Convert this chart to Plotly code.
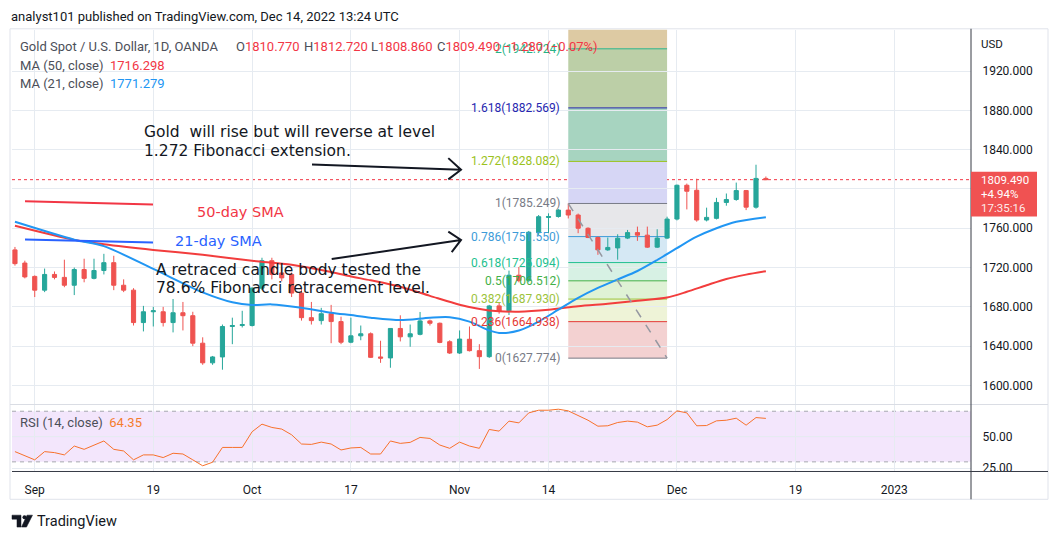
import plotly.graph_objects as go
import pandas as pd

W, H = 1053, 542

# ---------------- data ----------------
dates = pd.bdate_range("2022-08-30", "2022-12-14").strftime("%Y-%m-%d").tolist()

opens = [1738, 1724.6, 1711, 1697, 1713, 1710, 1702, 1718, 1709, 1717,
         1725, 1702, 1697, 1664, 1675, 1675, 1664, 1674, 1671, 1643,
         1623, 1629, 1660, 1661, 1661, 1699, 1727, 1714.5, 1713, 1694,
         1669, 1666, 1673, 1665, 1644, 1650.5, 1652.6, 1629, 1628, 1658,
         1649.5, 1652, 1665.7, 1663.3, 1644.5, 1633, 1647, 1635.4, 1629.3, 1681,
         1676, 1712.2, 1707, 1755.5, 1771, 1772, 1778.5, 1773.5, 1760, 1750.6,
         1738, 1740, 1750, 1755.6, 1753, 1740.8, 1750, 1769.4, 1803.8, 1798.7,
         1768.4, 1770.1, 1786.3, 1789.3, 1798.4, 1781.5, 1810.77]
highs = [1741, 1727, 1712, 1719, 1716, 1728, 1720, 1729, 1729, 1734,
         1732, 1708, 1699, 1681, 1680, 1680, 1688, 1685, 1675, 1649,
         1630, 1662, 1669, 1676, 1700, 1730, 1730, 1720, 1715, 1698,
         1685, 1679, 1682, 1670, 1669, 1661, 1654, 1645.5, 1658, 1671.4,
         1662, 1674.8, 1667, 1664, 1646, 1656, 1660, 1642, 1682, 1684,
         1716.9, 1720.6, 1757.3, 1773.5, 1775.2, 1779.5, 1785.25, 1775, 1761, 1751.6,
         1750.6, 1753.9, 1758.3, 1761.7, 1761.7, 1759, 1771.8, 1804.5, 1805.5, 1810.5,
         1781, 1791, 1795.4, 1806.5, 1799, 1824.7, 1812.72]
lows = [1722, 1709, 1690, 1695, 1708, 1700, 1692, 1705, 1708, 1713,
        1697, 1695, 1661, 1655, 1660, 1660, 1654, 1656, 1640, 1621,
        1621, 1616, 1642, 1659, 1660, 1697, 1708, 1706, 1690, 1666,
        1662, 1662, 1643, 1642, 1643, 1646, 1628, 1623, 1618, 1644.8,
        1639.4, 1651, 1661, 1643, 1632, 1632, 1634.6, 1616.8, 1628, 1673,
        1671.7, 1705, 1705, 1753, 1755, 1770.8, 1770, 1755, 1750, 1733,
        1737, 1728, 1749, 1747.2, 1740, 1740, 1749, 1768, 1779.2, 1766.7,
        1767, 1769, 1783, 1788, 1778.5, 1780, 1808.86]
closes = [1724, 1710.5, 1697, 1713, 1710, 1702, 1718, 1709, 1717, 1725,
          1702, 1697, 1664, 1675, 1676, 1664, 1674, 1671, 1643, 1623,
          1629, 1660, 1661, 1662, 1699, 1727, 1713, 1709.5, 1694, 1669,
          1666, 1673, 1665, 1644, 1650.5, 1652.6, 1628.6, 1627.8, 1658, 1649.5,
          1652.6, 1665.7, 1663.3, 1643.8, 1633, 1647.2, 1635.4, 1629.3, 1680.9, 1675.8,
          1712.2, 1706.7, 1756, 1771.8, 1772, 1778.5, 1773.5, 1760, 1750.6, 1738,
          1740.5, 1749.9, 1755.6, 1753, 1740.8, 1750, 1769.4, 1803.8, 1797.7, 1768.4,
          1771.1, 1786.3, 1789.3, 1798.4, 1781.5, 1810.77, 1809.49]

ma50_dates = ["2022-08-30", "2022-09-07", "2022-09-12", "2022-09-19", "2022-09-26",
              "2022-10-03", "2022-10-07", "2022-10-13", "2022-10-17", "2022-10-19",
              "2022-10-24", "2022-10-27", "2022-11-01", "2022-11-04", "2022-11-09",
              "2022-11-14", "2022-11-17", "2022-11-22", "2022-11-25", "2022-11-30",
              "2022-12-02", "2022-12-06", "2022-12-08", "2022-12-12", "2022-12-14"]
ma50_vals = [1762.5, 1748.2, 1743.8, 1738, 1733,
             1727, 1722.9, 1715.5, 1711, 1707,
             1700.4, 1691.2, 1682.2, 1676.4, 1675.1,
             1677, 1680.7, 1683.2, 1686.2, 1689.5,
             1695.3, 1702, 1708.4, 1712.8, 1716.298]

ma21_dates = ["2022-08-30", "2022-09-07", "2022-09-12", "2022-09-19", "2022-09-26",
              "2022-09-29", "2022-10-03", "2022-10-05", "2022-10-10", "2022-10-13",
              "2022-10-17", "2022-10-19", "2022-10-24", "2022-10-27", "2022-10-31",
              "2022-11-02", "2022-11-04", "2022-11-07", "2022-11-09", "2022-11-11",
              "2022-11-15", "2022-11-17", "2022-11-21", "2022-11-23", "2022-11-25",
              "2022-11-29", "2022-12-01", "2022-12-05", "2022-12-07", "2022-12-09",
              "2022-12-14"]
ma21_vals = [1766.6, 1748.4, 1741.8, 1718.6, 1694.8,
             1684.7, 1681.9, 1682.5, 1679.1, 1674.1,
             1671.6, 1669, 1666.5, 1669, 1669.5,
             1665, 1656, 1653.4, 1655.9, 1665,
             1677.1, 1689.2, 1699.3, 1707.9, 1716.5,
             1727.7, 1739.8, 1751.4, 1760, 1766.6,
             1771.279]

rsi_vals = [38.1, 34.7, 31.6, 38.1, 37.3, 35.5, 42.5, 39.9, 43.3, 46.5,
            39.9, 38.6, 31.6, 35.5, 35.5, 33.4, 36.8, 36.2, 31.6, 26.9,
            29.7, 41.4, 41.4, 41.4, 53.8, 59.8, 57.2, 55.9, 51.4, 44.1,
            43.8, 45.6, 44.1, 39.4, 41.0, 41.4, 36.2, 36.2, 46.5, 44.6,
            45.4, 49.3, 48.5, 43.3, 40.7, 45.6, 42.5, 40.7, 55.6, 54.3,
            62.2, 60.8, 68.7, 70.8, 70.8, 71.6, 70.3, 66.3, 62.9, 58.2,
            58.5, 61.1, 62.2, 61.4, 57.7, 59.0, 63.4, 70.3, 68.7, 58.5,
            58.7, 62.4, 62.9, 64.5, 59.0, 65.0, 64.35]

fib_start, fib_end = "2022-11-16", "2022-11-30"
fib_ratios = ["0", "0.236", "0.382", "0.5", "0.618", "0.786", "1", "1.272", "1.618", "2", "2.618"]
fib_prices = [1627.774, 1664.938, 1687.930, 1706.512, 1725.094, 1751.550,
              1785.249, 1828.082, 1882.569, 1942.724, 2040.040]
fib_line_colors = ["#787b86", "#e53935", "#9cc33b", "#43b047", "#22bf8f", "#3d9bd8",
                   "#787b86", "#9bc21e", "#2626b0", "#27b386"]
fib_fill_colors = ["#f3d1d1", "#eef3d7", "#dff2d5", "#d7f1e4", "#d5e8f4", "#e7e7ea",
                   "#d6d6f5", "#a7d4c0", "#bccfa7", "#ddcaa3"]

tick_dates = ["2022-09-01", "2022-09-19", "2022-10-03", "2022-10-17", "2022-11-01",
              "2022-11-14", "2022-12-01", "2022-12-19", "2023-01-02"]
tick_text = ["Sep", "19", "Oct", "17", "Nov", "14", "Dec", "19", "2023"]
price_ticks = [1600, 1640, 1680, 1720, 1760, 1800, 1840, 1880, 1920]
hidden_price_ticks = [1800]   # covered by the last-price tag on the scale

# ---------------- styling ----------------
GREEN, RED = "#26a69a", "#ef5350"
MA50_C, MA21_C = "#f23d3d", "#2196f3"
RSI_C = "#f7712b"
GRID = "#e6ebf1"
TXT = "#131722"
LEG = "#4c4f59"

# weekday index for the time axis (runs on into the empty space on the right)
axis_days = pd.bdate_range("2022-08-30", "2023-01-31").strftime("%Y-%m-%d").tolist()
pos = {d: i for i, d in enumerate(axis_days)}
xk = [pos[d] for d in dates]
x_range = [-0.3, 96.76]


def P(x, y):
    return x / W, 1 - y / H


fig = go.Figure()

fig.add_trace(go.Candlestick(
    x=xk, open=opens, high=highs, low=lows, close=closes,
    increasing=dict(line=dict(color=GREEN, width=1), fillcolor=GREEN),
    decreasing=dict(line=dict(color=RED, width=1), fillcolor=RED),
    whiskerwidth=0, hoverinfo="skip", showlegend=False, xaxis="x", yaxis="y"))

fig.add_trace(go.Scatter(x=[pos[d] for d in ma50_dates], y=ma50_vals, mode="lines",
                         line=dict(color=MA50_C, width=2, shape="spline", smoothing=0.8),
                         hoverinfo="skip", xaxis="x", yaxis="y"))
fig.add_trace(go.Scatter(x=[pos[d] for d in ma21_dates], y=ma21_vals, mode="lines",
                         line=dict(color=MA21_C, width=2, shape="spline", smoothing=0.8),
                         hoverinfo="skip", xaxis="x", yaxis="y"))

fig.add_trace(go.Scatter(x=xk, y=rsi_vals, mode="lines", line=dict(color=RSI_C, width=1),
                         hoverinfo="skip", xaxis="x2", yaxis="y2"))

# ---------------- fibonacci tool ----------------
fx0, fx1 = pos[fib_start], pos[fib_end]
for i in range(len(fib_prices) - 1):
    fig.add_shape(type="rect", xref="x", yref="y", x0=fx0, x1=fx1,
                  y0=fib_prices[i], y1=fib_prices[i + 1],
                  fillcolor=fib_fill_colors[i], line_width=0, layer="below")
for i in range(len(fib_prices) - 1):
    fig.add_shape(type="line", xref="x", yref="y", x0=fx0, x1=fx1,
                  y0=fib_prices[i], y1=fib_prices[i],
                  line=dict(color=fib_line_colors[i], width=1), layer="between")
    fig.add_annotation(x=fx0, y=fib_prices[i], xref="x", yref="y", xshift=-6,
                       text=f"{fib_ratios[i]}({fib_prices[i]:.3f})", showarrow=False,
                       xanchor="right", yanchor="middle",
                       font=dict(family="Roboto", size=12, color=fib_line_colors[i]))
fig.add_shape(type="line", xref="x", yref="y", x0=fx0, x1=fx1,
              y0=fib_prices[6], y1=fib_prices[0],
              line=dict(color="#9598a1", width=1.5, dash="dash"), layer="above")

# last price dotted line
fig.add_shape(type="line", xref="paper", yref="y", x0=12 / W, x1=971 / W,
              y0=closes[-1], y1=closes[-1],
              line=dict(color="#f23645", width=1, dash="dot"), layer="between")

# ---------------- RSI pane decorations ----------------
fig.add_shape(type="rect", xref="paper", yref="y2", x0=12 / W, x1=971 / W, y0=30, y1=70,
              fillcolor="#f3e6fc", line_width=0, layer="below")
for lvl in (30, 70):
    fig.add_shape(type="line", xref="paper", yref="y2", x0=12 / W, x1=971 / W, y0=lvl, y1=lvl,
                  line=dict(color="#a6a8b0", width=1, dash="4px,4px"), layer="between")
fig.add_shape(type="line", xref="paper", yref="y2", x0=12 / W, x1=971 / W, y0=50, y1=50,
              line=dict(color="#cfc9e2", width=1), layer="between")


# ---------------- frame / axis lines ----------------
def seg(x0, y0, x1, y1, color, width=1, layer="above", dash=None):
    a, b = P(x0, y0)
    c, d = P(x1, y1)
    fig.add_shape(type="line", xref="paper", yref="paper", x0=a, y0=b, x1=c, y1=d,
                  line=dict(color=color, width=width, dash=dash), layer=layer)


def path(points_list, color, width=2, fill=None):
    parts = []
    for pts in points_list:
        parts.append("M " + " L ".join(f"{x / W:.5f},{1 - y / H:.5f}" for x, y in pts))
    s = " ".join(parts) + (" Z" if fill else "")
    fig.add_shape(type="path", xref="paper", yref="paper", path=s,
                  line=dict(color=color, width=width), fillcolor=fill, layer="above")


# chart frame
a, b = P(10, 503)
c, d = P(1048, 29)
fig.add_shape(type="rect", xref="paper", yref="paper", x0=a, y0=b, x1=c, y1=d,
              line=dict(color="#e0e3eb", width=1), layer="below")
seg(10, 407.5, 1048, 407.5, "#dadde4", 1)
seg(12, 475, 1048, 475, "#363a45", 1)
seg(971, 29, 971, 503, "#363a45", 1)

# hand drawn legend segments and arrows
seg(25, 202.7, 153, 206, "#f23645", 2)
seg(25, 241.3, 153, 244.3, "#2962ff", 2)
path([[(312, 165.7), (461, 171)], [(448.3, 159.3), (461, 171), (448.3, 180.7)]], TXT, 2)
path([[(331.7, 261), (461, 241.7)], [(448.3, 233.3), (461, 241.7), (451.7, 254)]], TXT, 2)


# ---------------- texts ----------------
def text(x, y, s, size=12, color=TXT, family="Roboto", anchor="left"):
    xp, yp = P(x, y)
    fig.add_annotation(x=xp, y=yp, xref="paper", yref="paper", text=s, showarrow=False,
                       xanchor=anchor, yanchor="middle", borderpad=0,
                       font=dict(size=size, color=color, family=family))


def red(s):
    return f"<span style='color:#f23645'>{s}</span>"


text(10, 16.7, "analyst101 published on TradingView.com, Dec 14, 2022 13:24 UTC", 13, TXT)

chg = closes[-1] - closes[-2]
pct = chg / closes[-2] * 100
text(19, 46.7, "Gold Spot / U.S. Dollar, 1D, OANDA", 13, LEG)
text(235, 46.7, "O" + red(f"{opens[-1]:.3f}"), 13, LEG)
text(303, 46.7, "H" + red(f"{highs[-1]:.3f}"), 13, LEG)
text(370, 46.7, "L" + red(f"{lows[-1]:.3f}"), 13, LEG)
text(436, 46.7, "C" + red(f"{closes[-1]:.3f}"), 13, LEG)
text(502, 46.7, red(f"\u2212{abs(chg):.3f} (\u2212{abs(pct):.2f}%)"), 13, LEG)
text(19, 65.7, "MA (50, close)\u00a0\u00a0" + f"<span style='color:#f23645'>{ma50_vals[-1]:.3f}</span>", 13, LEG)
text(19, 84.3, "MA (21, close)\u00a0\u00a0" + f"<span style='color:{MA21_C}'>{ma21_vals[-1]:.3f}</span>", 13, LEG)
text(19, 425.7, "RSI (14, close)\u00a0\u00a0" + f"<span style='color:#f57c2c'>{rsi_vals[-1]:.2f}</span>", 13, LEG)

text(980, 44, "USD", 11.5, TXT)

DV = "DejaVu Sans"
text(143, 133.3, "Gold\u00a0\u00a0will rise but will reverse at level", 15.5, TXT, DV)
text(143, 151.7, "1.272 Fibonacci extension.", 15.5, TXT, DV)
text(195.5, 213.5, "50-day SMA", 14.5, "#f23645", DV)
text(174, 243, "21-day SMA", 14.5, "#2962ff", DV)
text(155, 272, "A retraced candle body tested the", 15.5, TXT, DV)
text(155, 290, "78.6% Fibonacci retracement level.", 15.5, TXT, DV)

# last price tag on the price scale
a, b = P(971, 218)
c, d = P(1037, 173)
fig.add_shape(type="rect", xref="paper", yref="paper", x0=a, y0=b, x1=c, y1=d,
              fillcolor="#f05252", line_width=0, layer="above")
text(980, 181.5, f"{closes[-1]:.3f}", 11.5, "white")
text(980, 195.7, "+4.94%", 11.5, "white")
text(980, 210, "17:35:16", 11.5, "rgba(255,255,255,0.9)")

# TradingView logo
path([[(12, 519), (21, 519), (21, 531), (17, 531), (17, 523), (12, 523)]], TXT, 0.5, fill=TXT)
a, b = P(22.5, 523)
c, d = P(26.5, 519)
fig.add_shape(type="circle", xref="paper", yref="paper", x0=a, y0=b, x1=c, y1=d,
              fillcolor=TXT, line_width=0, layer="above")
path([[(27, 519), (32.5, 519), (26.5, 531), (21.5, 531)]], TXT, 0.5, fill=TXT)
text(36, 525.5, "TradingView", 14.5, TXT)

# ---------------- axes ----------------
xdom = [12 / W, 971 / W]
common_x = dict(domain=xdom, range=x_range, tickvals=[pos[d] for d in tick_dates],
                showgrid=True, gridcolor=GRID, gridwidth=1, zeroline=False,
                showline=False, fixedrange=True)
price_text = ["" if v in hidden_price_ticks else f"{v:.3f}" for v in price_ticks]
fig.update_layout(
    width=W, height=H, margin=dict(l=0, r=0, t=0, b=0),
    paper_bgcolor="white", plot_bgcolor="white",
    showlegend=False, hovermode=False, dragmode=False, boxgap=0.4,
    font=dict(family="Roboto", size=12, color=TXT),
    xaxis=dict(**common_x, anchor="y", showticklabels=False, rangeslider=dict(visible=False)),
    xaxis2=dict(**common_x, anchor="y2", ticktext=tick_text, ticks="outside", ticklen=7,
                tickcolor="rgba(0,0,0,0)", tickfont=dict(size=12, color=TXT)),
    yaxis=dict(domain=[1 - 407 / H, 1 - 30 / H], range=[1581.1, 1962.1], side="right",
               anchor="x", tickvals=price_ticks, ticktext=price_text, showgrid=True,
               gridcolor=GRID, zeroline=False, ticks="outside", ticklen=8,
               tickcolor="rgba(0,0,0,0)", tickfont=dict(size=12, color=TXT), fixedrange=True),
    yaxis2=dict(domain=[1 - 475 / H, 1 - 407.5 / H], range=[22.39, 75.33], side="right",
                anchor="x2", tickvals=[25, 50], tickformat=".2f", showgrid=True,
                gridcolor=GRID, zeroline=False, ticks="outside", ticklen=8,
                tickcolor="rgba(0,0,0,0)", tickfont=dict(size=12, color=TXT), fixedrange=True),
)

fig.write_html("out.html", config=dict(displayModeBar=False, staticPlot=True),
               post_script="document.body.style.margin='0';document.body.style.overflow='hidden';")
